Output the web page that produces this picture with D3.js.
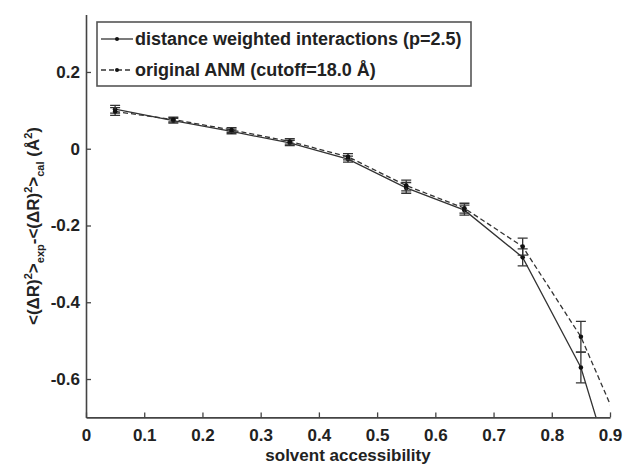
<!DOCTYPE html>
<html>
<head>
<meta charset="utf-8">
<script src="https://cdn.jsdelivr.net/npm/d3@7"></script>
<style>
  body { margin: 0; background: #fff; }
  svg text { font-family: "Liberation Sans", Arial, sans-serif; font-weight: bold; fill: #222; }
</style>
</head>
<body>
<svg id="chart" width="626" height="467"></svg>
<script>
// solvent accessibility bins
const access = [0.05, 0.15, 0.25, 0.35, 0.45, 0.55, 0.65, 0.75, 0.85, 0.95];

// distance weighted interactions (p=2.5)
const weighted = [0.103, 0.073, 0.045, 0.015, -0.027, -0.102, -0.160, -0.283, -0.570, -1.07];
const weightedErr = [0.010, 0.006, 0.006, 0.007, 0.008, 0.014, 0.013, 0.022, 0.040, 0.06];

// original ANM (cutoff=18.0 A)
const original = [0.097, 0.076, 0.049, 0.019, -0.021, -0.096, -0.155, -0.255, -0.490, -0.84];
const originalErr = [0.010, 0.006, 0.006, 0.007, 0.008, 0.014, 0.013, 0.022, 0.040, 0.06];

const xTicks = [0, 0.1, 0.2, 0.3, 0.4, 0.5, 0.6, 0.7, 0.8, 0.9];
const yTicks = [-0.6, -0.4, -0.2, 0, 0.2];

const legendLabels = ["distance weighted interactions (p=2.5)", "original ANM (cutoff=18.0 Å)"];

const svg = d3.select("#chart");
const axisColor = "#444";
const lineColor = "#333";

let x = d3.scaleLinear().domain([0, 0.9]).range([86, 610]);
let y = d3.scaleLinear().domain([-0.7, 0.35]).range([417.4, 14.4]);

// matlab style labels: plain hyphen for minus
let fmt = d => d === 0 ? "0" : d3.format(".1f")(d).replace("−", "-");

// clip to the plot area
svg.append("clipPath").attr("id", "plotclip")
    .append("rect")
    .attr("x", x(0)).attr("y", y(0.35))
    .attr("width", x(0.9) - x(0)).attr("height", y(-0.7) - y(0.35));

const series = [
    { vals: weighted, err: weightedErr, dash: null },
    { vals: original, err: originalErr, dash: "5,3" }
];

let plot = svg.append("g").attr("clip-path", "url(#plotclip)");

let line = d3.line().x((d, i) => x(access[i])).y(d => y(d));

series.forEach(s => {
    plot.append("path")
        .datum(s.vals)
        .attr("d", line)
        .attr("fill", "none")
        .attr("stroke", lineColor)
        .attr("stroke-width", 1.3)
        .attr("stroke-dasharray", s.dash);

    // error bars
    let eb = plot.append("g").selectAll("g")
        .data(s.vals.map((v, i) => ({ x: access[i], v: v, e: s.err[i] })))
        .join("g");
    eb.append("line")
        .attr("x1", d => x(d.x)).attr("x2", d => x(d.x))
        .attr("y1", d => y(d.v - d.e)).attr("y2", d => y(d.v + d.e))
        .attr("stroke", lineColor).attr("stroke-width", 1.3);
    eb.append("line")
        .attr("x1", d => x(d.x) - 5).attr("x2", d => x(d.x) + 5)
        .attr("y1", d => y(d.v - d.e)).attr("y2", d => y(d.v - d.e))
        .attr("stroke", lineColor).attr("stroke-width", 1.3);
    eb.append("line")
        .attr("x1", d => x(d.x) - 5).attr("x2", d => x(d.x) + 5)
        .attr("y1", d => y(d.v + d.e)).attr("y2", d => y(d.v + d.e))
        .attr("stroke", lineColor).attr("stroke-width", 1.3);
    eb.append("circle")
        .attr("cx", d => x(d.x)).attr("cy", d => y(d.v))
        .attr("r", 2.3).attr("fill", "#111");
});

// axes (MATLAB style, ticks inward)
let xAxis = svg.append("g")
    .attr("transform", `translate(0,${y(-0.7)})`)
    .call(d3.axisBottom(x).tickValues(xTicks).tickSizeInner(-5).tickSizeOuter(0)
        .tickPadding(12).tickFormat(fmt));
let yAxis = svg.append("g")
    .attr("transform", `translate(${x(0)},0)`)
    .call(d3.axisLeft(y).tickValues(yTicks).tickSizeInner(-5).tickSizeOuter(0)
        .tickPadding(6).tickFormat(fmt));

[xAxis, yAxis].forEach(a => {
    a.select(".domain").attr("stroke", axisColor).attr("stroke-width", 1.6);
    a.selectAll(".tick line").attr("stroke", axisColor).attr("stroke-width", 1.3);
    a.selectAll(".tick text").attr("font-size", 17).attr("fill", "#222");
});

// axis labels
svg.append("text")
    .attr("x", x(0.45)).attr("y", 461)
    .attr("text-anchor", "middle")
    .attr("font-size", 17)
    .text("solvent accessibility");

let ylab = svg.append("text")
    .attr("transform", `translate(39,226) rotate(-90)`)
    .attr("text-anchor", "middle")
    .attr("font-size", 17);
ylab.append("tspan").text("<(ΔR)");
ylab.append("tspan").attr("font-size", 11).attr("dy", -7).text("2");
ylab.append("tspan").attr("dy", 7).text(">");
ylab.append("tspan").attr("font-size", 11).attr("dy", 5).text("exp");
ylab.append("tspan").attr("dy", -5).text("-<(ΔR)");
ylab.append("tspan").attr("font-size", 11).attr("dy", -7).text("2");
ylab.append("tspan").attr("dy", 7).text(">");
ylab.append("tspan").attr("font-size", 11).attr("dy", 5).text("cal");
ylab.append("tspan").attr("dy", -5).text(" (Å");
ylab.append("tspan").attr("font-size", 11).attr("dy", -7).text("2");
ylab.append("tspan").attr("dy", 7).text(")");

// legend
let legend = svg.append("g");
legend.append("rect")
    .attr("x", 97).attr("y", 22).attr("width", 374).attr("height", 64)
    .attr("fill", "#fff").attr("stroke", "#555").attr("stroke-width", 1.6);

legendLabels.forEach((lab, i) => {
    let ly = 39 + i * 31;
    legend.append("line")
        .attr("x1", 101).attr("x2", 133).attr("y1", ly).attr("y2", ly)
        .attr("stroke", lineColor).attr("stroke-width", 1.3)
        .attr("stroke-dasharray", series[i].dash);
    legend.append("circle")
        .attr("cx", 117).attr("cy", ly).attr("r", 2).attr("fill", "#111");
    legend.append("text")
        .attr("x", 135).attr("y", ly + 6)
        .attr("font-size", 18)
        .text(lab);
});
</script>
</body>
</html>
